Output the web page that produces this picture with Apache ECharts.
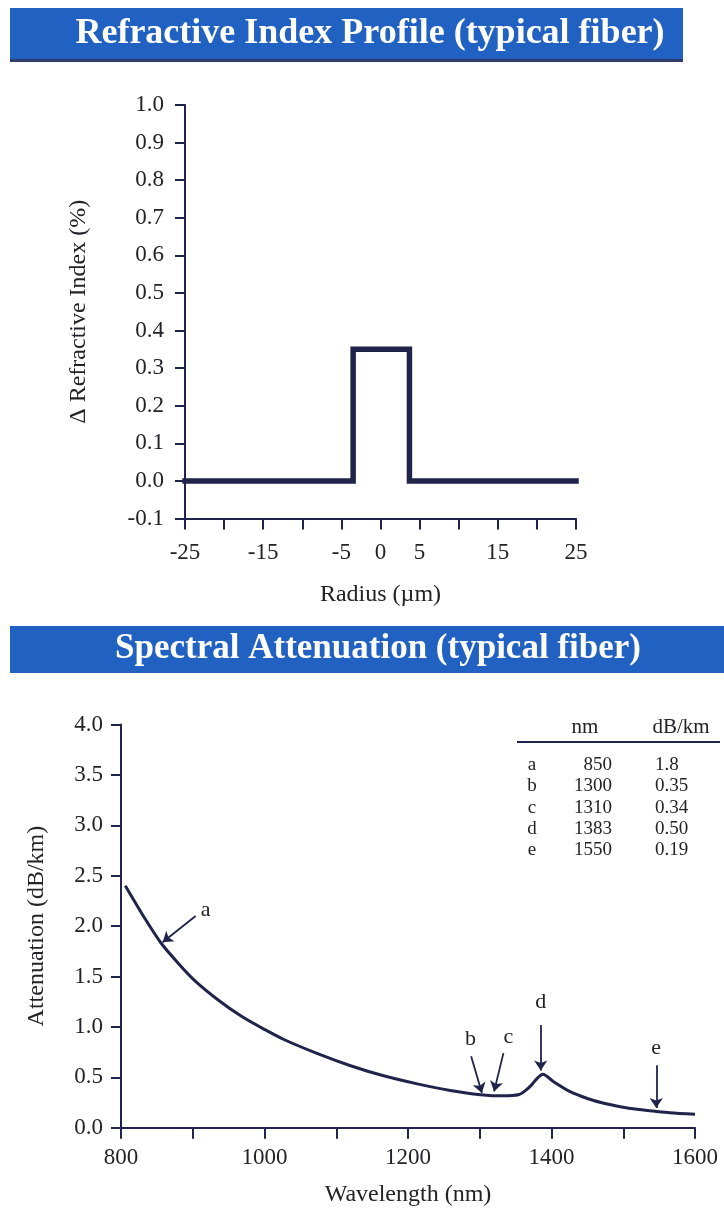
<!DOCTYPE html>
<html><head><meta charset="utf-8">
<script src="https://cdn.jsdelivr.net/npm/echarts@6/dist/echarts.min.js"></script>
<style>html,body{margin:0;padding:0;background:#fff}#c{width:724px;height:1211px}</style>
</head><body><div id="c"></div>
<script>
// ---- Refractive index profile ----
const profileRadius = [-25, -3.5, -3.5, 3.7, 3.7, 25];
const profileDelta  = [0, 0, 0.35, 0.35, 0, 0];
const radiusTickLabels = ['-25', '-15', '-5', '0', '5', '15', '25'];

// ---- Spectral attenuation ----
const wavelengthNm = [806, 832, 856, 880, 902, 935, 969, 1000, 1027, 1074, 1120, 1166, 1213, 1259, 1301, 1333, 1355, 1364, 1373, 1380, 1388, 1403, 1426, 1450, 1473, 1496, 1519, 1542, 1565, 1600];
const attenuationDb = [2.40, 2.09, 1.83, 1.63, 1.465, 1.27, 1.10, 0.975, 0.875, 0.735, 0.615, 0.515, 0.435, 0.37, 0.328, 0.316, 0.33, 0.37, 0.43, 0.49, 0.53, 0.456, 0.357, 0.29, 0.242, 0.208, 0.182, 0.165, 0.149, 0.133];
const wavelengthTickLabels = ['800', '1000', '1200', '1400', '1600'];

// ---- Table ----
const tableHeader = ['nm', 'dB/km'];
const tableKeys = ['a', 'b', 'c', 'd', 'e'];
const tableNm = ['850', '1300', '1310', '1383', '1550'];
const tableDb = ['1.8', '0.35', '0.34', '0.50', '0.19'];

// ---- Annotation arrows (data units) ----
const arrowTipNm  = [858, 1303, 1320, 1385, 1546];
const arrowTipDb  = [1.84, 0.344, 0.36, 0.567, 0.195];
const arrowTailNm = [904, 1288, 1333, 1385, 1546];
const arrowTailDb = [2.10, 0.71, 0.74, 1.02, 0.62];
const letterNm    = [918, 1287, 1340, 1385, 1546];
const letterDb    = [2.16, 0.88, 0.90, 1.24, 0.79];

const titles = ['Refractive Index Profile (typical fiber)', 'Spectral Attenuation (typical fiber)'];

const FONT = '"Liberation Serif", "DejaVu Serif", serif';
const NAVY = '#20234a';
const TXT = '#222228';
const BLUE = '#2161c1';

const chart = echarts.init(document.getElementById('c'), null, {renderer: 'canvas'});

const axisCommon = {
  axisLine: {onZero: false, lineStyle: {color: NAVY, width: 2}},
  splitLine: {show: false},
  nameTextStyle: {fontFamily: FONT, fontSize: 24, color: TXT},
};

const TF = '19px ' + FONT;
const HF = '21px ' + FONT;
const tableGraphics = [];
tableGraphics.push({type: 'text', x: 585, y: 727, style: {text: tableHeader[0], font: HF, fill: TXT, textAlign: 'center', textVerticalAlign: 'middle'}});
tableGraphics.push({type: 'text', x: 681, y: 727, style: {text: tableHeader[1], font: HF, fill: TXT, textAlign: 'center', textVerticalAlign: 'middle'}});
tableGraphics.push({type: 'line', shape: {x1: 517, y1: 742, x2: 720, y2: 742}, style: {stroke: NAVY, lineWidth: 2}});
tableKeys.forEach((k, i) => {
  const y = 765 + i * 21.3;
  tableGraphics.push({type: 'text', x: 532, y: y, style: {text: k, font: TF, fill: TXT, textAlign: 'center', textVerticalAlign: 'middle'}});
  tableGraphics.push({type: 'text', x: 612, y: y, style: {text: tableNm[i], font: TF, fill: TXT, textAlign: 'right', textVerticalAlign: 'middle'}});
  tableGraphics.push({type: 'text', x: 655, y: y, style: {text: tableDb[i], font: TF, fill: TXT, textAlign: 'left', textVerticalAlign: 'middle'}});
});

const option = {
  backgroundColor: '#ffffff',
  animation: false,
  grid: [
    {left: 185, right: 148, top: 105, bottom: 1211 - 518.5, containLabel: false},
    {left: 121, right: 29, top: 724.5, bottom: 1211 - 1127.7, containLabel: false}
  ],
  xAxis: [
    Object.assign({}, axisCommon, {
      gridIndex: 0, type: 'value', min: -25, max: 25, interval: 5,
      name: 'Radius (µm)', nameLocation: 'middle', nameGap: 64,
      axisTick: {length: 11, lineStyle: {color: NAVY, width: 2}},
      axisLabel: {margin: 23, fontFamily: FONT, fontSize: 23, color: TXT,
        formatter: v => radiusTickLabels.includes(String(v)) ? String(v) : ''}
    }),
    Object.assign({}, axisCommon, {
      gridIndex: 1, type: 'value', min: 800, max: 1600, interval: 100,
      name: 'Wavelength (nm)', nameLocation: 'middle', nameGap: 55,
      axisTick: {length: 11, lineStyle: {color: NAVY, width: 2}},
      axisLabel: {margin: 19, fontFamily: FONT, fontSize: 23, color: TXT,
        formatter: v => wavelengthTickLabels.includes(String(v)) ? String(v) : ''}
    })
  ],
  yAxis: [
    Object.assign({}, axisCommon, {
      gridIndex: 0, type: 'value', min: -0.1, max: 1.0, interval: 0.1,
      name: 'Δ Refractive Index (%)', nameLocation: 'middle', nameGap: 94, nameRotate: 90,
      axisTick: {length: 10, lineStyle: {color: NAVY, width: 2}},
      axisLabel: {margin: 21, fontFamily: FONT, fontSize: 23, color: TXT, formatter: v => v.toFixed(1)}
    }),
    Object.assign({}, axisCommon, {
      gridIndex: 1, type: 'value', min: 0, max: 4, interval: 0.5,
      name: 'Attenuation (dB/km)', nameLocation: 'middle', nameGap: 72, nameRotate: 90,
      axisTick: {length: 10, lineStyle: {color: NAVY, width: 2}},
      axisLabel: {margin: 18, fontFamily: FONT, fontSize: 23, color: TXT, formatter: v => v.toFixed(1)}
    })
  ],
  series: [
    {
      type: 'line', xAxisIndex: 0, yAxisIndex: 0, showSymbol: false, symbol: 'none',
      data: profileRadius.map((r, i) => [r, profileDelta[i]]),
      lineStyle: {color: NAVY, width: 5.5, join: 'miter', cap: 'square'},
      clip: false, silent: true
    },
    {
      type: 'line', xAxisIndex: 1, yAxisIndex: 1, showSymbol: false, symbol: 'none',
      smooth: 0.25,
      data: wavelengthNm.map((w, i) => [w, attenuationDb[i]]),
      lineStyle: {color: NAVY, width: 3},
      silent: true,
      markLine: {
        silent: true, animation: false,
        symbol: ['none', 'arrow'], symbolSize: 10,
        lineStyle: {color: NAVY, width: 1.8, type: 'solid'},
        label: {show: false},
        data: arrowTipNm.map((n, i) => [
          {coord: [arrowTailNm[i], arrowTailDb[i]]},
          {coord: [n, arrowTipDb[i]]}
        ])
      },
      markPoint: {
        silent: true, animation: false,
        symbol: 'circle', symbolSize: 0,
        label: {show: true, position: 'inside', formatter: p => p.name, fontFamily: FONT, fontSize: 22, color: TXT},
        data: tableKeys.map((k, i) => ({name: k, coord: [letterNm[i], letterDb[i]]}))
      }
    }
  ],
  graphic: [
    {type: 'rect', shape: {x: 10, y: 8, width: 673, height: 53}, style: {fill: BLUE}},
    {type: 'rect', shape: {x: 10, y: 59, width: 673, height: 3}, style: {fill: '#2c3d6e'}},
    {type: 'text', x: 370, y: 34, style: {text: titles[0], font: 'bold 36px ' + FONT, fill: '#ffffff', textAlign: 'center', textVerticalAlign: 'middle'}},
    {type: 'rect', shape: {x: 10, y: 626, width: 714, height: 47}, style: {fill: BLUE}},
    {type: 'text', x: 378, y: 649, style: {text: titles[1], font: 'bold 35px ' + FONT, fill: '#ffffff', textAlign: 'center', textVerticalAlign: 'middle'}}
  ].concat(tableGraphics)
};
chart.setOption(option);
</script>
</body></html>
